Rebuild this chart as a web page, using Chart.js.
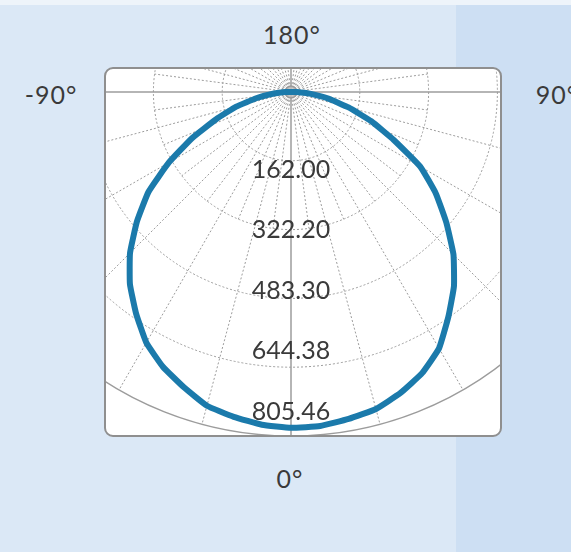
<!DOCTYPE html>
<html>
<head>
<meta charset="utf-8">
<script src="https://cdn.jsdelivr.net/npm/chart.js@4.4.1/dist/chart.umd.min.js"></script>
<style>
  body { margin: 0; width: 571px; height: 552px; overflow: hidden; position: relative;
         background: #dbe8f6; font-family: 'Lato', sans-serif; }
  #panel { position: absolute; left: 456px; top: 0; width: 115px; height: 552px; background: #cddff3; }
  #strip { position: absolute; left: 0; top: 0; width: 571px; height: 5px; background: #eef4fa; }
  #frame { position: absolute; left: 104px; top: 67px; width: 398px; height: 370px; box-sizing: border-box;
           border: 2px solid #8f8f8f; border-radius: 9px; background: #fff; overflow: hidden; }
  #polar { position: absolute; left: -159px; top: -321px; width: 688px; height: 688px; }
  .deg { position: absolute; font-size: 25px; line-height: 1; color: #3a3a3a; letter-spacing: 1px;
         transform: translate(-50%, -50%); white-space: nowrap; }
</style>
</head>
<body>
<div id="panel"></div>
<div id="strip"></div>
<div class="deg" style="left:292px; top:34px">180°</div>
<div class="deg" style="left:51px; top:94px">-90°</div>
<div class="deg" style="left:557px; top:94px">90°</div>
<div class="deg" style="left:290px; top:478px">0°</div>
<div id="frame"><canvas id="polar" width="688" height="688"></canvas></div>

<script>
// luminous intensity, gamma 0..90 deg every 5 deg (0 = straight down)
const gammaSteps = [0, 5, 10, 15, 20, 25, 30, 35, 40, 45, 50, 55, 60, 65, 70, 75, 80, 85, 90];
const intensityRight = [805.46, 804, 796, 787, 768, 744, 710, 658, 608, 551, 486, 424, 358, 272, 205, 143, 91, 45, 14];
const intensityLeft  = [805.46, 801, 791, 779, 753, 727, 694, 648, 601, 546, 482, 417, 338, 262, 191, 136, 83, 41, 14];

// labels written down the 0 deg axis
const tickLabels = ['162.00', '322.20', '483.30', '644.38', '805.46'];
const tickValues = [162.00, 322.20, 483.30, 644.38, 805.46];

const scaleMax = 825;
const scaleStep = 165;
const gridColor = '#9c9c9c';
const lineBlue = '#1b7aab';

// radar goes clockwise from the top, the top being 180 deg
const labels = [];
const values = [];
for (let i = 0; i < 72; i++) {
  const g = 180 - 5 * i;
  labels.push(g + '°');
  if (g >= 0 && g <= 90) values.push(intensityRight[gammaSteps.indexOf(g)]);
  else if (g < 0 && g >= -90) values.push(intensityLeft[gammaSteps.indexOf(-g)]);
  else values.push(0);
}

const polarExtras = {
  id: 'polarExtras',
  beforeDatasetsDraw(chart) {
    // short dashed spokes between the 15 deg ones, out to the second ring
    const s = chart.scales.r;
    const ctx = chart.ctx;
    const reach = s.getDistanceFromCenterForValue(scaleStep * 2);
    const halfGap = Math.PI * 2 / labels.length * 1.5;
    ctx.save();
    ctx.strokeStyle = gridColor;
    ctx.lineWidth = 1;
    ctx.setLineDash([2, 2]);
    for (let i = 0; i < labels.length; i += 3) {
      const a = s.getIndexAngle(i) + halfGap - Math.PI / 2;
      ctx.beginPath();
      ctx.moveTo(s.xCenter, s.yCenter);
      ctx.lineTo(s.xCenter + Math.cos(a) * reach, s.yCenter + Math.sin(a) * reach);
      ctx.stroke();
    }
    ctx.restore();
  },
  afterDatasetsDraw(chart) {
    const s = chart.scales.r;
    const ctx = chart.ctx;
    ctx.save();
    ctx.font = '25px Lato';
    ctx.fillStyle = '#3a3a3a';
    ctx.textAlign = 'center';
    ctx.textBaseline = 'middle';
    tickLabels.forEach((t, i) => {
      const d = 16.5 + 0.904 * s.getDistanceFromCenterForValue(tickValues[i]);
      ctx.fillText(t, s.xCenter, s.yCenter + d);
    });
    ctx.restore();
  }
};

new Chart(document.getElementById('polar'), {
  type: 'radar',
  data: {
    labels: labels,
    datasets: [{
      data: values,
      borderColor: lineBlue,
      borderWidth: 6,
      borderJoinStyle: 'round',
      fill: false,
      tension: 0.12,
      pointRadius: 0
    }, {
      data: [0],
      showLine: false,
      pointRadius: 6,
      pointBorderWidth: 1.5,
      pointBorderColor: '#9a9a9a',
      pointBackgroundColor: 'rgba(200,200,200,0.6)'
    }]
  },
  options: {
    responsive: false,
    animation: false,
    layout: { padding: 0 },
    plugins: { legend: { display: false }, tooltip: { enabled: false } },
    scales: {
      r: {
        min: 0,
        max: scaleMax,
        ticks: { display: false, stepSize: scaleStep },
        pointLabels: { display: false },
        grid: {
          circular: true,
          color: gridColor,
          lineWidth: ctx => ctx.index === 5 ? 1.5 : 1
        },
        border: { dash: ctx => ctx.index === 5 ? [] : [2, 2] },
        angleLines: {
          color: ctx => ctx.index % 3 === 0 ? gridColor : 'rgba(0,0,0,0)',
          lineWidth: ctx => ctx.index % 3 === 0 ? (ctx.index % 18 === 0 ? 1.5 : 1) : 0,
          borderDash: ctx => ctx.index % 18 === 0 ? [] : [2, 2]
        }
      }
    }
  },
  plugins: [polarExtras]
});
</script>
</body>
</html>
